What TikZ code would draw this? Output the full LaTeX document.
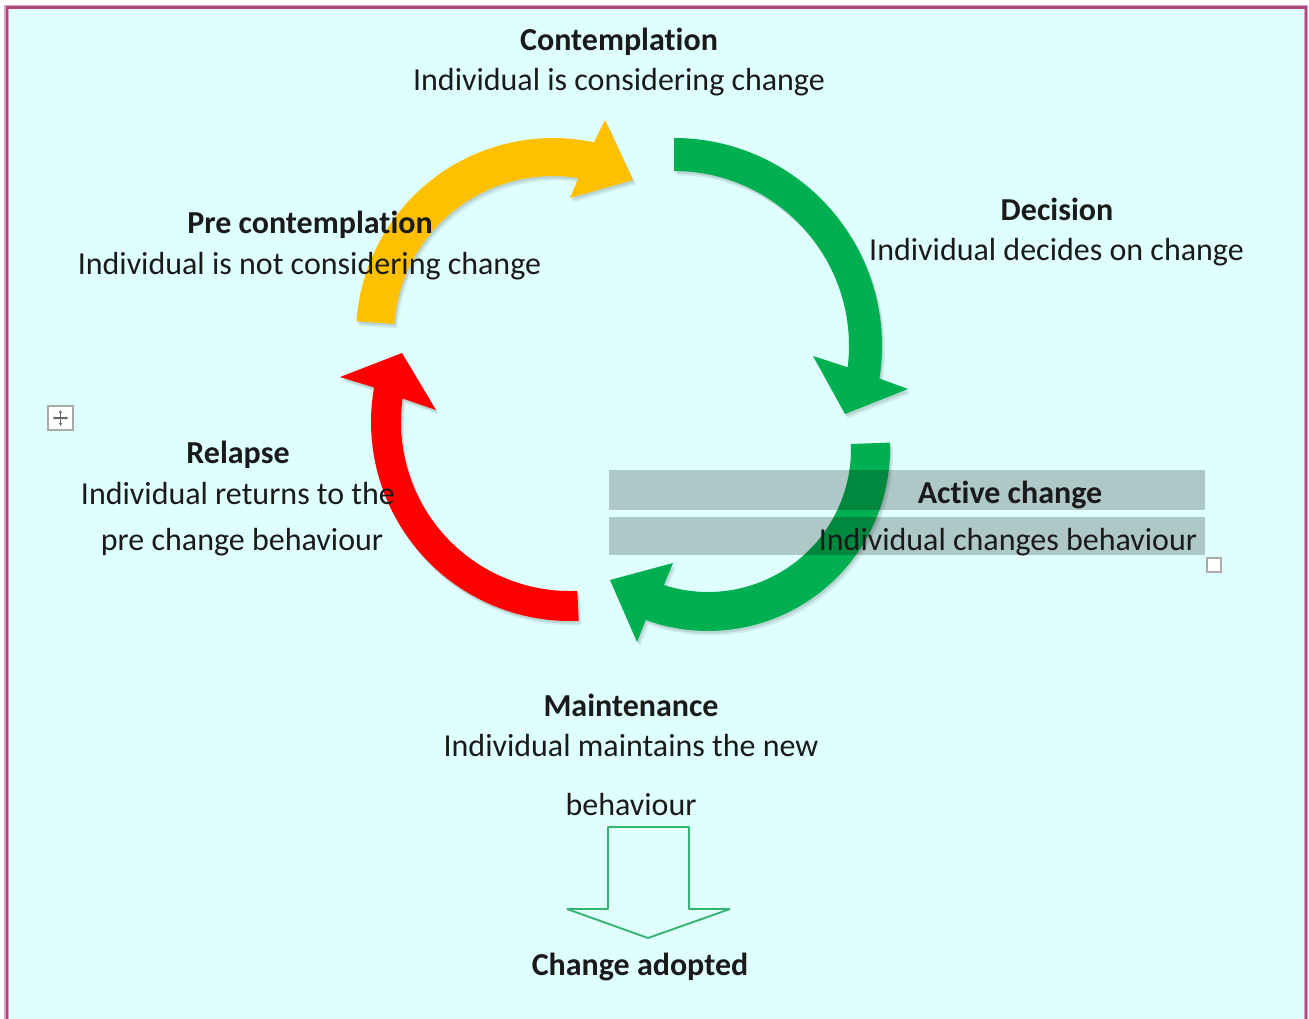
\documentclass[tikz,border=0pt]{standalone}
\usepackage{fontspec}
\setmainfont[Ligatures=NoCommon]{Carlito}
\usetikzlibrary{arrows.meta}
\definecolor{bgcyan}{RGB}{223,255,255}
\definecolor{bordc}{RGB}{172,72,124}
\definecolor{bordl}{RGB}{222,160,195}
\definecolor{yelc}{RGB}{255,192,0}
\definecolor{grnc}{RGB}{0,176,80}
\definecolor{redc}{RGB}{255,0,0}
\definecolor{txtc}{RGB}{26,26,26}
\definecolor{hollowc}{RGB}{52,180,112}
\definecolor{handc}{RGB}{170,170,170}
\newcommand\pathYellow{(356.5,321.3) arc[start angle=-176, end angle=-78, radius=197] -- (605,120) -- (633,180) -- (570,198) -- (578.4,178.1) arc[start angle=-80.8, end angle=-176, radius=159] -- cycle}
\newcommand\pathGreenA{(674,138) arc[start angle=-90, end angle=9, radius=208] -- (908,389) -- (845,414) -- (813,356) -- (847.7,367.3) arc[start angle=7, end angle=-90, radius=175] -- cycle}
\newcommand\pathGreenB{(889.9,442.6) arc[start angle=-2, end angle=110, radius=182] -- (637,642) -- (610,580) -- (673,563) -- (663.8,585) arc[start angle=108, end angle=-2, radius=143] -- cycle}
\newcommand\pathRed{(578.7,620.8) arc[start angle=87.5, end angle=190, radius=199] -- (340,377) -- (402,353) -- (436,410) -- (402.6,398.5) arc[start angle=188, end angle=87.5, radius=169] -- cycle}
\begin{document}
\begin{tikzpicture}[x=0.75pt,y=-0.75pt,
  lbl/.style={anchor=base, inner sep=0pt, text=txtc, font=\fontsize{24}{28}\selectfont},
  lblb/.style={lbl, font=\fontsize{24}{28}\selectfont\bfseries},
  shadA/.style={fill=black, fill opacity=0.10, shift={(1.5,2.5)}},
  shadB/.style={fill=black, fill opacity=0.07, shift={(3,4.5)}},
  graybox/.style={fill=black, fill opacity=0.22, draw=none},
  handle/.style={draw=handc, fill=white, line width=0.8pt}]
\useasboundingbox (0,0) rectangle (1309,1019);
\fill[white] (0,0) rectangle (1309,1019);
\fill[bgcyan] (7,7.5) rectangle (1306,1019);
\draw[bordl, line width=3.2pt] (6.5,1019) -- (6.5,7) -- (1306,7) -- (1306,1019);
\draw[bordc, line width=1.7pt] (7,1019) -- (7,7.5) -- (1306,7.5) -- (1306,1019);
% shadows
\foreach \p in {\pathYellow,\pathGreenA,\pathGreenB,\pathRed}{
  \fill[shadB] \p;
  \fill[shadA] \p;
}
% cycle arrows
\fill[yelc] \pathYellow;
\fill[grnc] \pathGreenA;
\fill[grnc] \pathGreenB;
\fill[redc] \pathRed;
% active change boxes
\fill[graybox] (609,470) rectangle (1205,510);
\fill[graybox] (609,517) rectangle (1205,555);
% labels
\node[lblb] (contT) at (619,51) {Contemplation};
\node[lbl]  (contD) at (619,91) {Individual is considering change};
\node[lblb] (preT) at (310,234) {Pre contemplation};
\node[lbl]  (preD) at (309.5,275) {Individual is not considering change};
\node[lblb] (decT) at (1057,221) {Decision};
\node[lbl]  (decD) at (1056.5,261) {Individual decides on change};
\node[lblb] (relT) at (238,463) {Relapse};
\node[lbl]  (relD) at (238,504) {Individual returns to the};
\node[lbl]  (relE) at (242,550) {pre change behaviour};
\node[lblb] (actT) at (1010,503) {Active change};
\node[lbl]  (actD) at (1008,550) {Individual changes behaviour};
\node[lblb] (mainT) at (631,716) {Maintenance};
\node[lbl]  (mainD) at (631,756) {Individual maintains the new};
\node[lbl]  (mainE) at (631,815) {behaviour};
\node[lblb] (adopt) at (640,975) {Change adopted};
% hollow down arrow
\draw[hollowc, line width=1.4pt, line join=bevel] (608,827) -- (689,827) -- (689,909) -- (730,909) -- (648,938) -- (567,909) -- (608,909) -- cycle;
% editor handles
\draw[handle] (48,406) rectangle (73,430);
\draw[gray!80!black, line width=0.8pt, {Latex[length=2.2pt,width=2.6pt]}-{Latex[length=2.2pt,width=2.6pt]}] (52.5,418) -- (68.5,418);
\draw[gray!80!black, line width=0.8pt, {Latex[length=2.2pt,width=2.6pt]}-{Latex[length=2.2pt,width=2.6pt]}] (60.5,410) -- (60.5,426);
\draw[handle] (1207,558) rectangle (1221,572);
\end{tikzpicture}
\end{document}
